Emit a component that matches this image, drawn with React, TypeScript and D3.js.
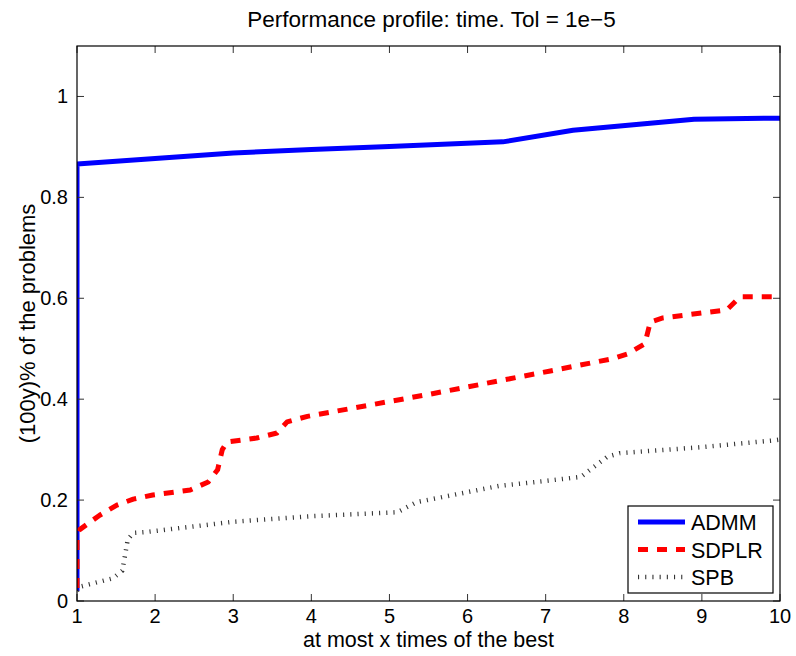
import React from "react";
import * as d3 from "d3";

const xTicks = [1, 2, 3, 4, 5, 6, 7, 8, 9, 10];
const yTicks = [0, 0.2, 0.4, 0.6, 0.8, 1];
const yTickLabels = ["0", "0.2", "0.4", "0.6", "0.8", "1"];

const admmX = [1, 1, 2, 3, 4, 5, 6.45, 7.35, 8.9, 10];
const admmY = [0.02, 0.866, 0.877, 0.888, 0.895, 0.901, 0.91, 0.933, 0.955, 0.957];

const sdplrX = [1, 1, 1.03, 1.29, 1.51, 1.72, 1.97, 2.45, 2.68, 2.8, 2.86, 2.92, 3.3, 3.56, 3.69, 3.95, 5.52, 7.06, 7.85, 8.05, 8.27, 8.34, 8.5, 9.32, 9.49, 10];
const sdplrY = [0.026, 0.13, 0.141, 0.17, 0.19, 0.202, 0.21, 0.22, 0.236, 0.26, 0.3, 0.315, 0.323, 0.333, 0.355, 0.366, 0.41, 0.456, 0.48, 0.49, 0.51, 0.553, 0.561, 0.577, 0.603, 0.603];

const spbX = [1, 1.03, 1.46, 1.58, 1.62, 1.65, 1.72, 1.9, 3, 4, 5.1, 5.35, 6.4, 7.0, 7.45, 7.79, 7.95, 9, 9.9, 10];
const spbY = [0.02, 0.028, 0.045, 0.06, 0.095, 0.122, 0.135, 0.137, 0.157, 0.168, 0.176, 0.196, 0.228, 0.238, 0.246, 0.286, 0.293, 0.305, 0.318, 0.32];

const legendNames = ["ADMM", "SDPLR", "SPB"];

const W = 796, H = 656;
const L = 77, R = 780, T = 46, B = 601;

export default function App() {
  const x = d3.scaleLinear().domain([1, 10]).range([L, R]);
  const y = d3.scaleLinear().domain([0, 1.1]).range([B, T]);
  const line = d3.line<[number, number]>().x((d) => x(d[0])).y((d) => y(d[1]));
  const mk = (xs: number[], ys: number[]) => line(xs.map((v, i) => [v, ys[i]] as [number, number])) || "";

  const series = [
    { name: legendNames[0], d: mk(admmX, admmY), color: "#0000ff", width: 5, dash: undefined as string | undefined },
    { name: legendNames[1], d: mk(sdplrX, sdplrY), color: "#ff0000", width: 5, dash: "10 9" },
    { name: legendNames[2], d: mk(spbX, spbY), color: "#333", width: 4.5, dash: "1.1 6.1" },
  ];
  const font = "'Liberation Sans', Arial, Helvetica, sans-serif";
  const tl = 7;
  const legX = 628, legY = 506, legW = 145, legH = 87;

  return (
    <svg width={W} height={H} style={{ position: "absolute", left: 0, top: 0, background: "#fff" }} fontFamily={font}>
      <defs>
        <clipPath id="plotclip">
          <rect x={L} y={T} width={R - L} height={B - T} />
        </clipPath>
      </defs>
      <rect x={0} y={0} width={W} height={H} fill="#fff" />
      <text x={(L + R) / 2 + 3} y={27} textAnchor="middle" fontSize={22.5} fill="#000">
        Performance profile: time. Tol = 1e−5
      </text>
      <g clipPath="url(#plotclip)">
        {series.map((s) => (
          <path key={s.name} d={s.d} fill="none" stroke={s.color} strokeWidth={s.width} strokeDasharray={s.dash} strokeLinejoin="round" />
        ))}
      </g>
      <g stroke="#333" strokeWidth={1}>
        {xTicks.map((t) => (
          <g key={"x" + t}>
            <line x1={x(t)} x2={x(t)} y1={B} y2={B - tl} />
            <line x1={x(t)} x2={x(t)} y1={T} y2={T + tl} />
          </g>
        ))}
        {yTicks.map((t) => (
          <g key={"y" + t}>
            <line x1={L} x2={L + tl} y1={y(t)} y2={y(t)} />
            <line x1={R} x2={R - tl} y1={y(t)} y2={y(t)} />
          </g>
        ))}
      </g>
      <rect x={L} y={T} width={R - L} height={B - T} fill="none" stroke="#000" strokeWidth={1.2} />
      {xTicks.map((t) => (
        <text key={"xl" + t} x={x(t)} y={B + 22} textAnchor="middle" fontSize={20} fill="#000">
          {t}
        </text>
      ))}
      {yTicks.map((t, i) => (
        <text key={"yl" + t} x={L - 9} y={y(t) + 7} textAnchor="end" fontSize={20} fill="#000">
          {yTickLabels[i]}
        </text>
      ))}
      <text x={(L + R) / 2} y={647} textAnchor="middle" fontSize={21.5} fill="#000">
        at most x times of the best
      </text>
      <text transform={`translate(35,${(T + B) / 2}) rotate(-90)`} textAnchor="middle" fontSize={22} fill="#000">
        (100y)% of the problems
      </text>
      <rect x={legX} y={legY} width={legW} height={legH} fill="#fff" stroke="#000" strokeWidth={1.2} />
      {series.map((s, i) => {
        const cy = legY + 16 + i * 27.5;
        return (
          <g key={"lg" + s.name}>
            <line x1={legX + 10} x2={legX + 57} y1={cy} y2={cy} stroke={s.color} strokeWidth={s.width} strokeDasharray={s.dash} />
            <text x={legX + 63} y={cy + 8} fontSize={21.5} fill="#000">
              {s.name}
            </text>
          </g>
        );
      })}
    </svg>
  );
}
